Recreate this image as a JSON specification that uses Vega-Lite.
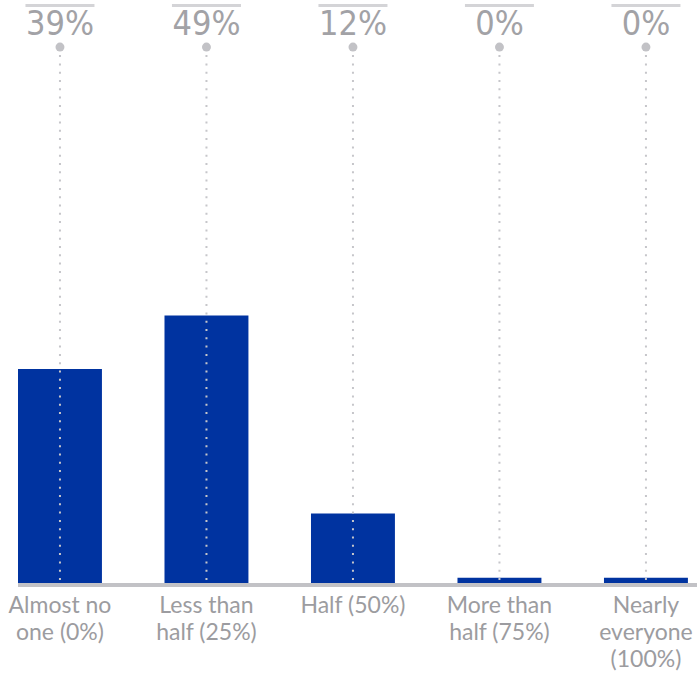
{
  "$schema": "https://vega.github.io/schema/vega-lite/v6.json",
  "width": 679,
  "height": 583,
  "autosize": {"type": "none"},
  "padding": {"left": 18, "top": 0, "right": 0, "bottom": 90},
  "background": "white",
  "config": {"view": {"stroke": null}},
  "data": {
    "values": [
      {"answer": "Almost no\none (0%)", "share": 0.39},
      {"answer": "Less than\nhalf (25%)", "share": 0.49},
      {"answer": "Half (50%)", "share": 0.12},
      {"answer": "More than\nhalf (75%)", "share": 0.0},
      {"answer": "Nearly\neveryone\n(100%)", "share": 0.0}
    ]
  },
  "encoding": {
    "x": {
      "field": "answer",
      "type": "nominal",
      "sort": null,
      "scale": {"paddingInner": 0.427, "paddingOuter": 0.031, "align": 0},
      "axis": {
        "title": null,
        "domain": false,
        "ticks": false,
        "labelAngle": 0,
        "labelFont": "Lato",
        "labelFontSize": 23,
        "labelColor": "#9c9ca0",
        "labelLineHeight": 27,
        "labelPadding": 11,
        "labelOverlap": false,
        "labelFlush": false,
        "labelLimit": 0,
        "labelExpr": "split(datum.label, '\\n')"
      }
    }
  },
  "layer": [
    {
      "mark": {"type": "bar", "color": "#0033a0"},
      "encoding": {
        "y": {
          "field": "share",
          "type": "quantitative",
          "scale": {"domain": [-0.01, 1.08], "nice": false, "zero": false},
          "axis": null
        },
        "y2": {"datum": -0.01}
      }
    },
    {
      "mark": {"type": "rule", "color": "#c2c2c6", "strokeWidth": 4, "yOffset": 2},
      "encoding": {"y": {"datum": -0.01}, "x": {"value": 0}, "x2": {"value": 679}}
    },
    {
      "mark": {"type": "rule", "color": "#c6c6ca", "strokeWidth": 2, "strokeDash": [2, 6.3]},
      "encoding": {"y": {"datum": 0.977}, "y2": {"datum": -0.01}}
    },
    {
      "mark": {"type": "circle", "color": "#c2c2c6", "opacity": 1, "size": 80},
      "encoding": {"y": {"datum": 0.992}}
    },
    {
      "mark": {"type": "tick", "color": "#c2c2c6", "thickness": 3, "size": 69, "orient": "horizontal"},
      "encoding": {"y": {"datum": 1.0697}}
    },
    {
      "mark": {
        "type": "text",
        "font": "'DejaVu Sans Condensed', 'Liberation Sans Narrow', 'Arial Narrow', 'DejaVu Sans'",
        "fontSize": 34,
        "color": "#a2a2a6",
        "baseline": "alphabetic",
        "align": "center"
      },
      "encoding": {
        "y": {"datum": 1.0146},
        "text": {"field": "share", "format": ".0%"}
      }
    }
  ]
}
